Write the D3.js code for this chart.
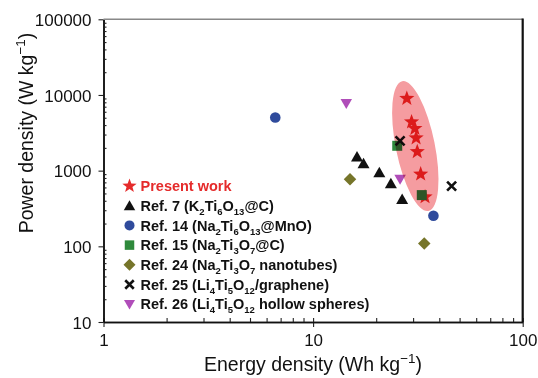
<!DOCTYPE html>
<html><head><meta charset="utf-8">
<script src="https://cdn.jsdelivr.net/npm/d3@7"></script>
<style>body{margin:0;background:#fff}svg{display:block}</style>
</head><body>
<svg id="c" width="538" height="378"></svg>
<script>
// ---- data ----
const presentE = [28, 29.5, 30.6, 31, 31.4, 32.6, 34.2];
const presentP = [9000, 4400, 3600, 2700, 1780, 900, 450];
const ref7E = [16.2, 17.4, 20.7, 23.5, 26.6];
const ref7P = [1520, 1245, 946, 677, 417];
const ref14E = [6.6, 37.5];
const ref14P = [5040, 253];
const ref15E = [25.2, 33];
const ref15P = [2130, 475];
const ref24E = [15, 33.9];
const ref24P = [772, 109];
const ref25E = [26, 45.8];
const ref25P = [2480, 624];
const ref26E = [14.4, 26];
const ref26P = [7710, 772];
const ellipseEndE = [26.6, 35.5];
const ellipseEndP = [15200, 294];
const xTicks = [1, 10, 100];
const yTicks = [10, 100, 1000, 10000, 100000];
const legendLabels = ["Present work", "Ref. 7 (K_2Ti_6O_13@C)", "Ref. 14 (Na_2Ti_6O_13@MnO)",
  "Ref. 15 (Na_2Ti_3O_7@C)", "Ref. 24 (Na_2Ti_3O_7 nanotubes)", "Ref. 25 (Li_4Ti_5O_12/graphene)",
  "Ref. 26 (Li_4Ti_5O_12 hollow spheres)"];

// ---- layout ----
const svg = d3.select("#c");
const L = 103.5, R = 522.7, T = 19.3, B = 322;
const x = d3.scaleLog().domain([1, 100]).range([L, R]);
const y = d3.scaleLog().domain([10, 100000]).range([B, T]);

const colors = {present: "#e52b2b", r7: "#111", r14: "#2f4b9c", r15: "#2f8a3c", r24: "#76752a", r25: "#111", r26: "#b04db9"};

function starPath(R0 = 8, r0 = 3.3) {
  let p = [];
  for (let i = 0; i < 10; i++) {
    const a = -Math.PI / 2 + i * Math.PI / 5, rr = i % 2 ? r0 : R0;
    p.push([rr * Math.cos(a), rr * Math.sin(a)]);
  }
  return "M" + p.map(d => d.join(",")).join("L") + "Z";
}
const triUp = (w, h) => `M0,${-h*0.55}L${w/2},${h*0.45}L${-w/2},${h*0.45}Z`;
const triDown = (w, h) => `M0,${h*0.55}L${w/2},${-h*0.45}L${-w/2},${-h*0.45}Z`;
const circ = r => `M${r},0A${r},${r} 0 1,1 ${-r},0A${r},${r} 0 1,1 ${r},0Z`;
const square = s => `M${-s/2},${-s/2}H${s/2}V${s/2}H${-s/2}Z`;
const diamond = s => `M0,${-s/2}L${s/2},0L0,${s/2}L${-s/2},0Z`;
const cross = s => `M${-s/2},${-s/2}L${s/2},${s/2}M${s/2},${-s/2}L${-s/2},${s/2}`;

const symbols = {
  present: {d: starPath(), fill: colors.present},
  r7: {d: triUp(12, 10.5), fill: colors.r7},
  r14: {d: circ(5.3), fill: colors.r14},
  r15: {d: square(10), fill: colors.r15},
  r24: {d: diamond(12.5), fill: colors.r24},
  r25: {d: cross(9), stroke: colors.r25, sw: 2.6},
  r26: {d: triDown(11.5, 10), fill: colors.r26}
};

// ---- axes ----
const ff = "Arial, 'Liberation Sans', sans-serif";
const gx = svg.append("g").attr("transform", `translate(0,${B})`);
const minorX = [];
[1, 10].forEach(dec => { for (let k = 2; k <= 9; k++) minorX.push(dec * k); });
const minorY = [];
[10, 100, 1000, 10000].forEach(dec => { for (let k = 2; k <= 9; k++) minorY.push(dec * k); });

gx.call(d3.axisBottom(x).tickValues(xTicks).tickFormat(d3.format("d")).tickSize(5).tickSizeOuter(0));
gx.append("g").call(d3.axisTop(x).tickValues(minorX.concat(xTicks)).tickFormat("").tickSize(4).tickSizeOuter(0));
gx.selectAll("text").attr("font-family", ff).attr("font-size", 17).attr("fill", "#111").attr("dy", null).attr("y", 0).attr("transform", "translate(0,24)");

const gy = svg.append("g").attr("transform", `translate(${L},0)`);
gy.call(d3.axisLeft(y).tickValues(yTicks).tickFormat(d3.format("d")).tickSize(5).tickSizeOuter(0));
gy.append("g").call(d3.axisRight(y).tickValues(minorY).tickFormat("").tickSize(3).tickSizeOuter(0));
gy.selectAll("text").attr("font-family", ff).attr("font-size", 17).attr("fill", "#111").attr("x", -12).attr("dy", "0.36em");

svg.selectAll(".domain").attr("stroke", "#111").attr("stroke-width", 1.5);
svg.selectAll(".tick line").attr("stroke", "#222").attr("stroke-width", 1.1);

svg.append("line").attr("x1", L).attr("x2", R).attr("y1", T).attr("y2", T).attr("stroke", "#888").attr("stroke-width", 1.6);
svg.append("line").attr("x1", R).attr("x2", R).attr("y1", T - 0.8).attr("y2", B).attr("stroke", "#111").attr("stroke-width", 2.2);

// axis titles
const xt = svg.append("text").attr("x", 313).attr("y", 371).attr("text-anchor", "middle")
  .attr("font-family", ff).attr("font-size", 19.5).attr("fill", "#111");
xt.append("tspan").text("Energy density (Wh kg");
xt.append("tspan").text("\u22121").attr("font-size", 13.5).attr("dy", -8);
xt.append("tspan").text(")").attr("dy", 8);

const yt = svg.append("text").attr("transform", `translate(33,133) rotate(-90)`).attr("text-anchor", "middle")
  .attr("font-family", ff).attr("font-size", 19.5).attr("fill", "#111");
yt.append("tspan").text("Power density (W kg");
yt.append("tspan").text("\u22121").attr("font-size", 13.5).attr("dy", -8);
yt.append("tspan").text(")").attr("dy", 8);

// ---- markers ----
const plot = svg.append("g");
function drawSeries(key, E, P) {
  const s = symbols[key];
  plot.selectAll(null).data(E.map((e, i) => [e, P[i]])).enter().append("path")
    .attr("transform", d => `translate(${x(d[0])},${y(d[1])})`)
    .attr("d", s.d)
    .attr("fill", s.fill || "none")
    .attr("stroke", s.stroke || "none")
    .attr("stroke-width", s.sw || 0);
}
drawSeries("r7", ref7E, ref7P);
drawSeries("r14", ref14E, ref14P);
drawSeries("r24", ref24E, ref24P);
drawSeries("r26", ref26E, ref26P);
drawSeries("present", presentE, presentP);
drawSeries("r15", ref15E, ref15P);
drawSeries("r25", ref25E, ref25P);

// highlight ellipse
const ex1 = x(ellipseEndE[0]), ey1 = y(ellipseEndP[0]), ex2 = x(ellipseEndE[1]), ey2 = y(ellipseEndP[1]);
const ecx = (ex1 + ex2) / 2, ecy = (ey1 + ey2) / 2;
const erx = Math.hypot(ex2 - ex1, ey2 - ey1) / 2;
const eang = Math.atan2(ey2 - ey1, ex2 - ex1) * 180 / Math.PI;
svg.append("ellipse").attr("cx", 0).attr("cy", 0).attr("rx", erx).attr("ry", 19.5)
  .attr("transform", `translate(${ecx},${ecy}) rotate(${eang})`)
  .attr("fill", "#f59ca0").style("mix-blend-mode", "multiply");

// ---- legend ----
const keys = ["present", "r7", "r14", "r15", "r24", "r25", "r26"];
const legSym = {
  present: starPath(7.5, 3.1), r7: triUp(11.5, 10), r14: circ(5), r15: square(9.5),
  r24: diamond(12), r25: cross(8.5), r26: triDown(11, 9.5)
};
const leg = svg.append("g");
keys.forEach((k, i) => {
  const cy = 186 + i * 19.7;
  const s = symbols[k];
  leg.append("path").attr("transform", `translate(129.5,${cy})`).attr("d", legSym[k])
    .attr("fill", s.fill || "none").attr("stroke", s.stroke || "none").attr("stroke-width", s.sw || 0);
  const t = leg.append("text").attr("x", 140.5).attr("y", cy + 5.2)
    .attr("font-family", ff).attr("font-size", 14.5).attr("font-weight", "bold")
    .attr("fill", k === "present" ? colors.present : "#111");
  const parts = legendLabels[i].split(/(_\d+)/);
  let sub = false;
  parts.forEach(p => {
    if (!p) return;
    if (p[0] === "_") {
      t.append("tspan").text(p.slice(1)).attr("font-size", 9.5).attr("dy", sub ? 0 : 4);
      sub = true;
    } else {
      t.append("tspan").text(p).attr("dy", sub ? -4 : 0);
      sub = false;
    }
  });
});
</script>
</body></html>
